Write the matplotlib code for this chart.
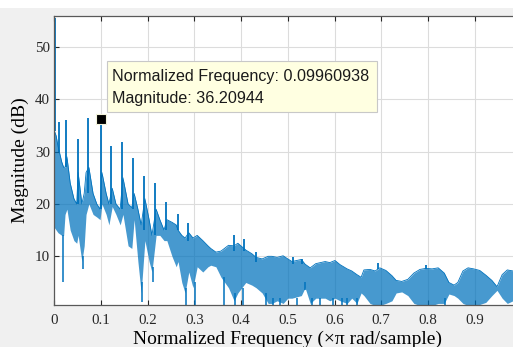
import numpy as np
import matplotlib.pyplot as plt
from matplotlib.patches import Rectangle

# band of the dense spectrum: frequency, upper edge, lower edge (dB)
band_f = [0.000, 0.004, 0.008, 0.016, 0.020, 0.023, 0.027, 0.034, 0.042, 0.048,
          0.051, 0.059, 0.064, 0.068, 0.074, 0.083, 0.091, 0.098, 0.102, 0.111,
          0.117, 0.124, 0.132, 0.141, 0.147, 0.158, 0.166, 0.171, 0.179, 0.186,
          0.194, 0.203, 0.209, 0.218, 0.226, 0.235, 0.241, 0.252, 0.261, 0.265,
          0.273, 0.280, 0.288, 0.297, 0.306, 0.318, 0.329, 0.335, 0.346, 0.357,
          0.373, 0.385, 0.393, 0.410, 0.423, 0.432, 0.445, 0.458, 0.466, 0.477,
          0.490, 0.500, 0.509, 0.529, 0.537, 0.548, 0.560, 0.580, 0.590, 0.601,
          0.612, 0.627, 0.637, 0.648, 0.657, 0.663, 0.676, 0.687, 0.697, 0.710,
          0.723, 0.732, 0.744, 0.757, 0.770, 0.783, 0.796, 0.809, 0.822, 0.835,
          0.845, 0.856, 0.864, 0.875, 0.886, 0.898, 0.911, 0.924, 0.937, 0.948,
          0.959, 0.970, 0.982, 1.000]
band_hi = [34, 33, 31, 28, 27, 27, 29, 24, 21, 20,
           26, 20, 22, 26, 27, 22, 20, 19, 26, 22,
           20, 23, 20, 19, 25, 20, 19.3, 22, 19, 16,
           21, 17, 14, 19, 17, 15, 17, 16.5, 16, 15,
           14, 13.5, 14.5, 13.5, 14, 13, 12, 11.5, 10.8, 11,
           12.1, 12, 12.5, 11.2, 10.5, 9.8, 9.5, 10, 10, 9.8,
           10.1, 9.5, 9, 9.4, 8.5, 7.8, 8.6, 9, 8.8, 9.2,
           8.4, 7.6, 7.2, 6.5, 6, 7.4, 7.5, 7.2, 7.8, 7.3,
           6.3, 5.4, 5.2, 5.6, 6.8, 7.5, 7.7, 7.6, 7.8, 6.8,
           5, 4.5, 5, 7.2, 7.8, 7.6, 7.3, 6.4, 5.4, 4.2,
           6.5, 7.4, 7.2, 6.8]
band_lo = [15.5, 15, 14.5, 14, 14, 18, 19, 15, 13, 12.5,
           14, 9, 12, 18, 20, 18, 17.5, 17, 20, 18,
           16, 19.5, 18, 16, 18, 12, 11.5, 17, 9, 3,
           13, 9, 7, 14, 14, 13, 13, 10, 8, 9,
           5, 3, 7, 4, 8, 7, 8, 8.3, 8, 6,
           4, 1.5, 3, 5, 4.5, 4, 3, 1, 1, 1.5,
           1, 2, 2, 2.5, 4, 1, 2, 2, 1.5, 2,
           1.5, 1, 2, 1, 3, 2.5, 1, 0.6, 0.6, 1,
           1.5, 3, 3.2, 2.5, 1, 0.6, 0.6, 0.6, 1, 1,
           2.8, 2.5, 2, 1, 0.6, 0.6, 0.8, 1.2, 2.5, 3.5,
           2, 1, 1.5, 2]

# sharp harmonic peaks: frequency, foot, top (dB)
spike_f = [0.001, 0.010, 0.025, 0.050, 0.073, 0.0996, 0.121, 0.145, 0.168, 0.192,
           0.215, 0.240, 0.264, 0.287, 0.384, 0.406, 0.432, 0.512, 0.530, 0.694, 0.796]
spike_lo = [34, 30, 27, 20, 22, 19, 20, 19, 19, 15,
            14, 15, 15, 13, 11, 11, 9, 8.5, 8.5, 7.5, 7.5]
spike_hi = [55.5, 35.7, 36.0, 32.5, 36.4, 36.2094, 31.0, 31.8, 28.7, 25.4,
            24.0, 20.4, 18.0, 16.3, 14.0, 13.3, 10.8, 9.8, 9.4, 8.8, 8.4]

# deep nulls: frequency, bottom, top (dB)
notch_f = [0.019, 0.062, 0.187, 0.211, 0.281, 0.302, 0.364, 0.387, 0.404, 0.453,
           0.468, 0.483, 0.520, 0.537, 0.551, 0.569, 0.597, 0.616, 0.627, 0.648, 0.837]
notch_lo = [5.1, 7.5, 1.3, 5, 0.6, 0.6, 0.6, 0.6, 0.6, 0.6,
            0.6, 0.6, 0.6, 3.5, 0.6, 0.6, 0.6, 0.6, 0.6, 0.6, 0.6]
notch_hi = [14, 10, 5, 8, 4, 5, 6, 3, 4, 3,
            2, 2, 2, 5, 2, 2, 2, 2, 2, 2, 2]

tip_f = 0.09960938
tip_mag = 36.20944

blue = '#0072BD'

fig = plt.figure(figsize=(5.13, 3.47), dpi=100, facecolor='#f0f0f0')
fig.patches.append(Rectangle((0, 1 - 8 / 347), 1, 8 / 347, transform=fig.transFigure,
                             facecolor='white', edgecolor='none'))
ax = fig.add_axes([54.3 / 513, 42 / 347, 467 / 513, 289 / 347])

ax.fill_between(band_f, band_lo, band_hi, color=blue, alpha=0.72, lw=0)
ax.plot(band_f, band_hi, color=blue, lw=0.6)
ax.vlines(spike_f, spike_lo, spike_hi, color=blue, lw=1.3)
ax.vlines(notch_f, notch_lo, notch_hi, color=blue, lw=1.1)

ax.set_xlim(0, 1)
ax.set_ylim(0.7, 55.9)
ax.set_xticks(np.arange(0, 1.0, 0.1))
ax.set_xticklabels(['0', '0.1', '0.2', '0.3', '0.4', '0.5', '0.6', '0.7', '0.8', '0.9'])
ax.set_yticks([10, 20, 30, 40, 50])
ax.grid(True, color='#dcdcdc', lw=0.8)
ax.set_axisbelow(True)
ax.tick_params(direction='in', length=3.5, top=True, right=True, labelsize=10.8,
               colors='#262626')
ax.tick_params(axis='x', pad=6.5)
ax.tick_params(axis='y', pad=3)
for lab in ax.get_xticklabels() + ax.get_yticklabels():
    lab.set_family('Liberation Serif')
for s in ax.spines.values():
    s.set_color('#595959')
    s.set_linewidth(0.9)

ax.set_xlabel('Normalized Frequency (\u00d7\u03c0 rad/sample)', family='Liberation Serif',
              fontsize=14, va='top')
ax.xaxis.set_label_coords(0.5, -0.089)
ax.set_ylabel('Magnitude (dB)', family='Liberation Serif', fontsize=14)
ax.yaxis.set_label_coords(-0.054, 0.5)

# data tip
ax.plot([tip_f], [tip_mag], 's', color='black', ms=6.5, mec='#f5f5dc', mew=0.8, zorder=6)
ax.add_patch(Rectangle((0.1128, 0.668), 0.578, 0.1765, transform=ax.transAxes,
                       facecolor='#ffffe1', edgecolor='#c8c8c8', lw=0.8, zorder=7))
ax.text(0.1235, 0.792, 'Normalized Frequency: %.8f' % tip_f, transform=ax.transAxes,
        family='Liberation Sans', fontsize=11.6, va='center', color='#1a1a1a', zorder=8)
ax.text(0.1235, 0.716, 'Magnitude: %.5f' % tip_mag, transform=ax.transAxes,
        family='Liberation Sans', fontsize=11.6, va='center', color='#1a1a1a', zorder=8)

fig.savefig('out.png', dpi=100, facecolor=fig.get_facecolor())
